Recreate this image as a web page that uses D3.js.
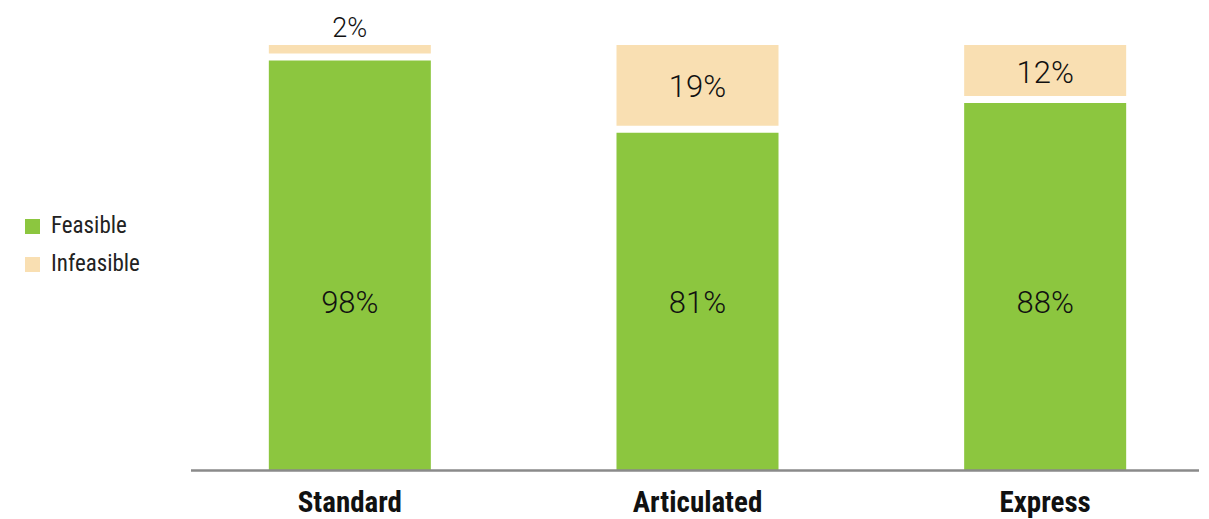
<!DOCTYPE html>
<html>
<head>
<meta charset="utf-8">
<script src="https://cdn.jsdelivr.net/npm/d3@7"></script>
<style>
  body { margin: 0; background: #fff; }
  svg { display: block; }
</style>
</head>
<body>
<div id="chart"></div>
<script>
    // data
    var categorias = ["Standard", "Articulated", "Express"];
    var feasible = [0.98, 0.81, 0.88];
    var infeasible = [0.02, 0.19, 0.12];
    var etiquetasF = ["98%", "81%", "88%"];
    var etiquetasI = ["2%", "19%", "12%"];
    var series = ["Feasible", "Infeasible"];

    var ancho = 1209, alto = 519;
    var base = 470, tope = 45;
    var hueco = 7;
    var colores = {Feasible: "#8cc63f", Infeasible: "#f9dfb2"};

    var svg = d3.select("#chart")
        .append("svg")
        .attr("width", ancho)
        .attr("height", alto);

    var escalaX = d3.scaleBand()
        .domain(categorias)
        .range([176, 1219])
        .paddingInner(0.534)
        .paddingOuter(0.267);

    var escalaY = d3.scaleLinear()
        .domain([0, 1])
        .range([base, tope]);

    var filas = categorias.map(function (c, i) {
        return {cat: c, f: feasible[i], inf: infeasible[i], lf: etiquetasF[i], li: etiquetasI[i]};
    });

    // feasible segments (white gap at top)
    svg.selectAll("rect.feasible")
        .data(filas)
        .enter()
        .append("rect")
        .attr("class", "feasible")
        .attr("x", function (d) { return escalaX(d.cat); })
        .attr("y", function (d) { return escalaY(d.f) + hueco; })
        .attr("width", escalaX.bandwidth())
        .attr("height", function (d) { return base - escalaY(d.f) - hueco; })
        .attr("fill", colores.Feasible);

    // infeasible segments
    svg.selectAll("rect.infeasible")
        .data(filas)
        .enter()
        .append("rect")
        .attr("class", "infeasible")
        .attr("x", function (d) { return escalaX(d.cat); })
        .attr("y", function (d) { return escalaY(d.f + d.inf); })
        .attr("width", escalaX.bandwidth())
        .attr("height", function (d) { return escalaY(d.f) - escalaY(d.f + d.inf); })
        .attr("fill", colores.Infeasible);

    // baseline
    svg.append("line")
        .attr("x1", 191).attr("x2", 1199)
        .attr("y1", base + 0.5).attr("y2", base + 0.5)
        .attr("stroke", "#8a8a8a")
        .attr("stroke-width", 2.5);

    // feasible labels
    svg.selectAll("text.lf")
        .data(filas)
        .enter()
        .append("text")
        .attr("class", "lf")
        .text(function (d) { return d.lf; })
        .attr("text-anchor", "middle")
        .attr("x", function (d) { return escalaX(d.cat) + escalaX.bandwidth() / 2; })
        .attr("y", escalaY(0.4) + 13)
        .attr("font-family", "Roboto, 'Liberation Sans', sans-serif")
        .attr("font-weight", 300)
        .attr("font-size", "31px")
        .attr("fill", "#111");

    // infeasible labels: inside if room, otherwise above
    svg.selectAll("text.li")
        .data(filas)
        .enter()
        .append("text")
        .attr("class", "li")
        .text(function (d) { return d.li; })
        .attr("text-anchor", "middle")
        .attr("x", function (d) { return escalaX(d.cat) + escalaX.bandwidth() / 2; })
        .attr("y", function (d) {
            var y0 = escalaY(d.f + d.inf), y1 = escalaY(d.f);
            if (y1 - y0 < 30) return y0 - 8;
            return (y0 + y1) / 2 + 12;
        })
        .attr("font-family", "Roboto, 'Liberation Sans', sans-serif")
        .attr("font-weight", 300)
        .attr("font-size", function (d) { return (escalaY(d.f) - escalaY(d.f + d.inf) < 30) ? "27px" : "31px"; })
        .attr("fill", "#111");

    // category labels
    svg.selectAll("text.cat")
        .data(categorias)
        .enter()
        .append("text")
        .attr("class", "cat")
        .text(function (d) { return d; })
        .attr("text-anchor", "middle")
        .attr("x", function (d) { return escalaX(d) + escalaX.bandwidth() / 2; })
        .attr("y", 512)
        .attr("font-family", "'Liberation Sans Narrow', 'Roboto Condensed', 'Liberation Sans', sans-serif")
        .attr("font-weight", "bold")
        .attr("font-size", "29px")
        .attr("fill", "#111");

    // legend
    var leyenda = svg.selectAll("g.ley")
        .data(series)
        .enter()
        .append("g")
        .attr("class", "ley")
        .attr("transform", function (d, i) { return "translate(25," + (219 + i * 38) + ")"; });

    leyenda.append("rect")
        .attr("width", 15)
        .attr("height", 15)
        .attr("fill", function (d) { return colores[d]; });

    leyenda.append("text")
        .text(function (d) { return d; })
        .attr("x", 26)
        .attr("y", 14)
        .attr("font-family", "'Liberation Sans Narrow', 'Roboto Condensed', 'Liberation Sans', sans-serif")
        .attr("font-size", "23px")
        .attr("fill", "#222");
</script>
</body>
</html>
